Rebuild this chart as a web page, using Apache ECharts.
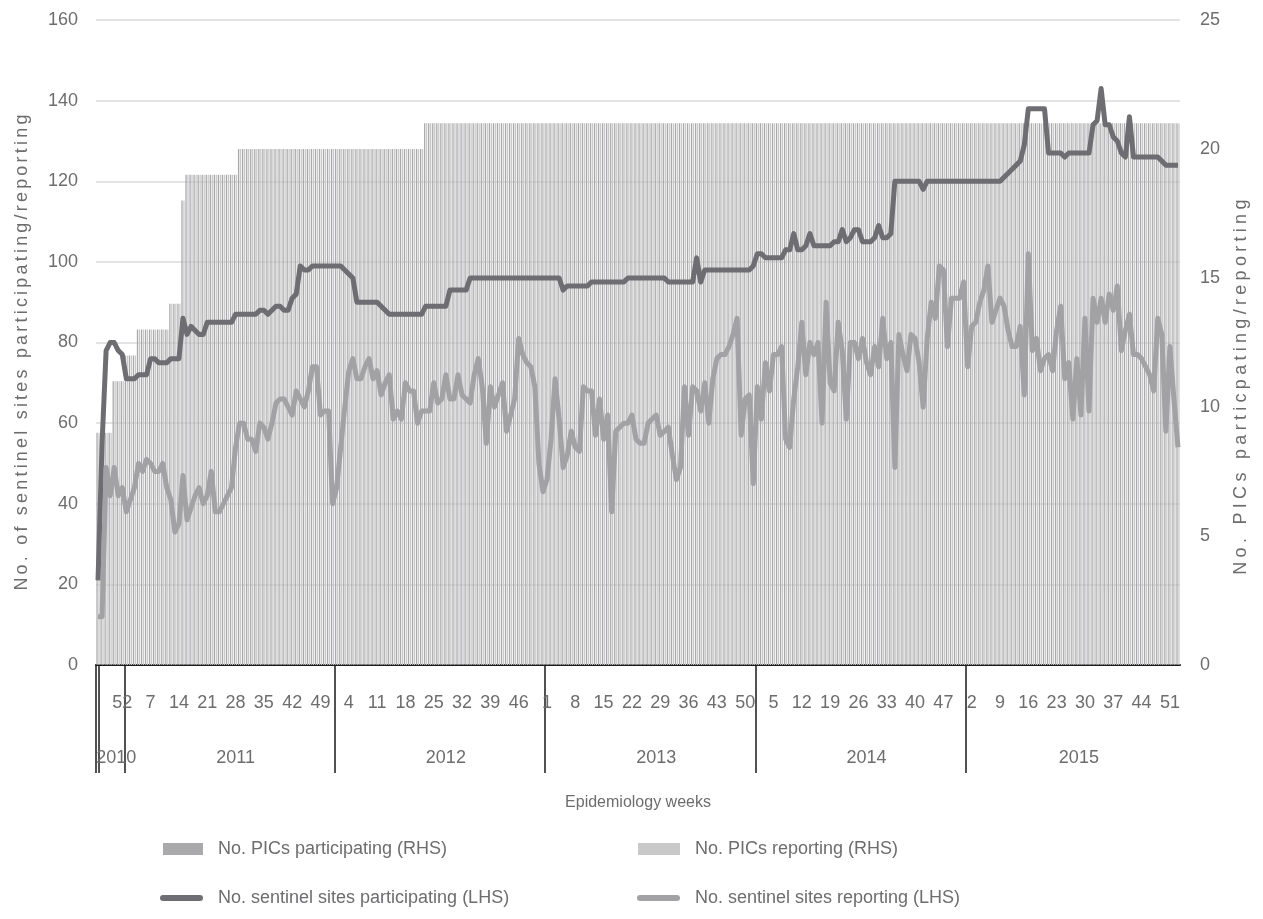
<!DOCTYPE html>
<html>
<head>
<meta charset="utf-8">
<script src="https://cdn.jsdelivr.net/npm/echarts@6/dist/echarts.min.js"></script>
<style>
html,body{margin:0;padding:0;background:#fff;}
#chart{width:1263px;height:919px;}
</style>
</head>
<body>
<div id="chart"></div>
<script>
// ---- Category structure (epidemiology weeks) ----
const years = ['2010', '2011', '2012', '2013', '2014', '2015'];
const firstWeek = [46, 1, 1, 1, 1, 1];
const lastWeek = [52, 52, 52, 52, 52, 53];

// ---- Series values ----
const picsParticipating = [
  9,9,9,9,11,11,11,
  12,12,12,13,13,13,13,13,13,13,13,14,14,14,18,
  19,19,19,19,19,19,19,19,19,19,19,19,19,
  20,20,20,20,20,20,20,20,20,20,20,20,20,
  20,20,20,20,20,20,20,20,20,20,20,
  20,20,20,20,20,20,20,20,20,20,20,20,20,
  20,20,20,20,20,20,20,20,20,
  21,21,21,21,21,21,21,21,21,21,21,21,21,
  21,21,21,21,21,21,21,21,21,21,21,21,21,
  21,21,21,21,
  21,21,21,21,21,21,21,21,21,21,21,21,21,
  21,21,21,21,21,21,21,21,21,21,21,21,21,
  21,21,21,21,21,21,21,21,21,21,21,21,21,
  21,21,21,21,21,21,21,21,21,21,21,21,21,
  21,21,21,21,21,21,21,21,21,21,21,21,21,
  21,21,21,21,21,21,21,21,21,21,21,21,21,
  21,21,21,21,21,21,21,21,21,21,21,21,21,
  21,21,21,21,21,21,21,21,21,21,21,21,21,
  21,21,21,21,21,21,21,21,21,21,21,21,21,
  21,21,21,21,21,21,21,21,21,21,21,21,21,
  21,21,21,21,21,21,21,21,21,21,21,21,21,
  21,21,21,21,21,21,21,21,21,21,21,21,21,
  21
];
const picsReporting = [
  9,9,9,9,11,11,11,
  12,12,12,13,13,13,13,13,13,13,13,14,14,14,18,
  19,19,19,19,19,19,19,19,19,19,19,19,19,
  20,20,20,20,20,20,20,20,20,20,20,20,20,
  20,20,20,20,20,20,20,20,20,20,20,
  20,20,20,20,20,20,20,20,20,20,20,20,20,
  20,20,20,20,20,20,20,20,20,
  21,21,21,21,21,21,21,21,21,21,21,21,21,
  21,21,21,21,21,21,21,21,21,21,21,21,21,
  21,21,21,21,
  21,21,21,21,21,21,21,21,21,21,21,21,21,
  21,21,21,21,21,21,21,21,21,21,21,21,21,
  21,21,21,21,21,21,21,21,21,21,21,21,21,
  21,21,21,21,21,21,21,21,21,21,21,21,21,
  21,21,21,21,21,21,21,21,21,21,21,21,21,
  21,21,21,21,21,21,21,21,21,21,21,21,21,
  21,21,21,21,21,21,21,21,21,21,21,21,21,
  21,21,21,21,21,21,21,21,21,21,21,21,21,
  21,21,21,21,21,21,21,21,21,21,21,21,21,
  21,21,21,21,21,21,21,21,21,21,21,21,21,
  21,21,21,21,21,21,21,21,21,21,21,21,21,
  21,21,21,21,21,21,21,21,21,21,21,21,21,
  21
];
const sitesParticipating = [
  // 2010
  21,55,78,80,80,78,77,
  // 2011
  71,71,71,72,72,72,76,76,75,75,75,76,76,76,
  86,82,84,83,82,82,85,85,85,85,85,85,85,
  87,87,87,87,87,87,88,88,87,88,89,89,88,88,91,92,
  99,98,98,99,99,99,99,99,99,
  // 2012
  99,99,98,97,96,90,90,90,90,90,90,89,88,
  87,87,87,87,87,87,87,87,87,89,89,89,89,89,89,
  93,93,93,93,93,
  96,96,96,96,96,96,96,96,96,96,96,96,96,96,96,96,96,96,96,
  // 2013
  96,96,96,96,93,94,94,94,94,94,94,
  95,95,95,95,95,95,95,95,95,
  96,96,96,96,96,96,96,96,96,96,
  95,95,95,95,95,95,95,101,95,
  98,98,98,98,98,98,98,98,98,98,98,98,99,
  // 2014
  102,102,101,101,101,101,101,103,103,107,103,103,104,107,
  104,104,104,104,104,105,105,108,105,106,108,108,105,105,105,106,109,106,106,107,
  120,120,120,120,120,120,120,118,
  120,120,120,120,120,120,120,120,120,120,
  // 2015
  120,120,120,120,120,120,120,120,120,121,122,123,124,125,129,
  138,138,138,138,138,127,127,127,127,126,127,127,127,127,127,127,
  134,135,143,134,134,131,130,127,126,136,
  126,126,126,126,126,126,126,125,124,124,124,124
];
const sitesReporting = [
  // 2010
  12,12,49,42,49,42,44,
  // 2011
  38,41,44,50,48,51,50,48,48,50,
  44,41,33,35,47,36,39,42,44,40,
  42,48,38,38,40,42,44,54,60,60,
  56,56,53,60,59,56,60,65,66,66,
  64,62,68,66,64,68,74,74,62,63,
  63,40,
  // 2012
  44,54,64,73,76,71,71,74,76,71,
  73,67,70,72,61,63,61,70,68,68,
  60,63,63,63,70,65,66,72,66,66,
  72,67,66,65,72,76,69,55,69,64,
  67,70,58,62,66,81,77,75,74,69,
  50,43,
  // 2013
  46,56,71,61,49,52,58,54,53,69,
  68,68,57,66,56,62,38,58,59,60,
  60,62,56,55,55,60,61,62,57,58,
  59,52,46,49,69,57,69,68,63,70,
  60,71,76,77,77,79,82,86,57,66,
  67,45,
  // 2014
  69,61,75,68,77,77,79,56,54,66,
  74,85,72,80,77,80,60,90,70,68,
  85,78,61,80,80,76,81,75,72,79,
  74,86,76,80,49,82,77,73,82,81,
  75,64,81,90,86,99,98,79,91,91,
  91,95,
  // 2015
  74,84,85,90,93,99,85,88,91,89,
  83,79,79,84,67,102,78,81,73,76,
  77,73,83,89,71,75,61,76,62,86,
  63,91,85,91,85,92,88,94,78,83,
  87,77,77,76,74,72,68,86,82,58,
  79,66,54
];

// ---- Tick labels ----
const leftTicks = [0, 20, 40, 60, 80, 100, 120, 140, 160];
const rightTicks = [0, 5, 10, 15, 20, 25];

// ---- Build category list ----
const categories = [];
const yearStart = [];
const yearLen = [];
years.forEach((y, k) => {
  yearStart.push(categories.length);
  for (let w = firstWeek[k]; w <= lastWeek[k]; w++) categories.push(y + '-' + w);
  yearLen.push(lastWeek[k] - firstWeek[k] + 1);
});
const N = categories.length;
const yearMid = yearStart.map((s, k) => s + yearLen[k] / 2 + 1.5);
const yearTicks = [0, 0.7].concat(yearStart.slice(1));

const FONT = '"Liberation Sans", Arial, Helvetica, sans-serif';
const TXT = '#6d6d6f';
const names = ['No. PICs participating (RHS)', 'No. PICs reporting (RHS)',
  'No. sentinel sites participating (LHS)', 'No. sentinel sites reporting (LHS)'];
const leftTitle = 'No. of sentinel sites participating/reporting';
const rightTitle = 'No. PICs particpating/reporting';
const xTitle = 'Epidemiology weeks';
const lineIcon = 'path://M3,0 L40,0 A3,3 0 0 1 40,6 L3,6 A3,3 0 0 1 3,0 Z';

const chart = echarts.init(document.getElementById('chart'), null, {renderer: 'canvas'});
const legendText = {fontSize: 18, color: TXT, fontFamily: FONT, padding: [0, 0, 0, 10]};
const legendBase = {padding: 0, selectedMode: false, textStyle: legendText};
chart.setOption({
  animation: false,
  textStyle: {fontFamily: FONT},
  grid: {left: 96, right: 83, top: 20, bottom: 254, containLabel: false, outerBoundsMode: 'none'},
  legend: [
    Object.assign({data: [names[0]], left: 163, top: 840, icon: 'rect', itemWidth: 40, itemHeight: 12}, legendBase),
    Object.assign({data: [names[1]], left: 638, top: 840, icon: 'rect', itemWidth: 42, itemHeight: 12}, legendBase),
    Object.assign({data: [names[2]], left: 160, top: 889, icon: lineIcon, itemWidth: 43, itemHeight: 7}, legendBase),
    Object.assign({data: [names[3]], left: 637, top: 889, icon: lineIcon, itemWidth: 43, itemHeight: 7}, legendBase)
  ],
  graphic: [
    {type: 'text', id: 'ltitle', zlevel: 1, x: 22, y: 351, rotation: Math.PI / 2,
      style: {text: leftTitle, font: '18px ' + FONT, fill: TXT, align: 'center', verticalAlign: 'middle'}},
    {type: 'text', id: 'rtitle', zlevel: 2, x: 1241, y: 385, rotation: Math.PI / 2,
      style: {text: rightTitle, font: '18px ' + FONT, fill: TXT, align: 'center', verticalAlign: 'middle'}},
    {type: 'text', id: 'xtitle', x: 638, y: 803,
      style: {text: xTitle, font: '16px ' + FONT, fill: TXT, align: 'center', verticalAlign: 'middle'}}
  ],
  xAxis: [
    {
      type: 'category', data: categories, boundaryGap: true,
      axisLine: {lineStyle: {color: '#1a1a1a', width: 2}},
      axisTick: {show: false},
      axisLabel: {
        interval: (i) => i % 7 === 6,
        formatter: (v) => v.split('-')[1],
        margin: 29, fontSize: 18, color: TXT, fontFamily: FONT
      },
      splitLine: {show: false}
    },
    {
      type: 'value', min: 0, max: N, position: 'bottom',
      axisLine: {show: false}, splitLine: {show: false},
      axisTick: {show: true, customValues: yearTicks, length: 108, lineStyle: {color: '#1a1a1a', width: 1.5}},
      axisLabel: {
        customValues: yearMid,
        formatter: (v) => { const k = yearMid.findIndex(m => Math.abs(m - v) < 0.01); return k >= 0 ? years[k] : ''; },
        margin: 84, fontSize: 18, color: TXT, fontFamily: FONT
      }
    }
  ],
  yAxis: [
    {
      type: 'value', min: leftTicks[0], max: leftTicks[leftTicks.length - 1], interval: leftTicks[1] - leftTicks[0],
      position: 'left',
      axisLine: {show: false}, axisTick: {show: false},
      axisLabel: {margin: 18, fontSize: 18, color: TXT, fontFamily: FONT},
      splitLine: {lineStyle: {color: '#dadada', width: 1.5}}
    },
    {
      type: 'value', min: rightTicks[0], max: rightTicks[rightTicks.length - 1], interval: rightTicks[1] - rightTicks[0],
      position: 'right',
      axisLine: {show: false}, axisTick: {show: false},
      axisLabel: {margin: 20, fontSize: 18, color: TXT, fontFamily: FONT},
      splitLine: {show: false}
    }
  ],
  series: [
    {name: names[0], type: 'bar', xAxisIndex: 0, yAxisIndex: 1, data: picsParticipating,
      barWidth: 1.3, barGap: '50%', itemStyle: {color: '#a9a9ab'}},
    {name: names[1], type: 'bar', xAxisIndex: 0, yAxisIndex: 1, data: picsReporting,
      barWidth: 1.3, barGap: '50%', itemStyle: {color: '#c9c9ca'}},
    {name: names[2], type: 'line', xAxisIndex: 0, yAxisIndex: 0, data: sitesParticipating,
      symbol: 'none', lineStyle: {color: '#6e6e72', width: 5, join: 'round'}, itemStyle: {color: '#6e6e72'}},
    {name: names[3], type: 'line', xAxisIndex: 0, yAxisIndex: 0, data: sitesReporting,
      symbol: 'none', lineStyle: {color: '#a2a2a5', width: 5, join: 'round'}, itemStyle: {color: '#a2a2a5'}}
  ]
});

// The vertical axis titles in the reference are letter-spaced; apply spacing on their own canvas layers.
try {
  const painter = chart.getZr().painter;
  const spaceLayer = (z, ls) => {
    const layer = painter.getLayer && painter.getLayer(z);
    if (layer && layer.ctx && 'letterSpacing' in layer.ctx) layer.ctx.letterSpacing = ls;
  };
  spaceLayer(1, '3.2px');
  spaceLayer(2, '4.3px');
  painter.refresh(true);
} catch (e) { /* keep default spacing */ }
</script>
</body>
</html>
